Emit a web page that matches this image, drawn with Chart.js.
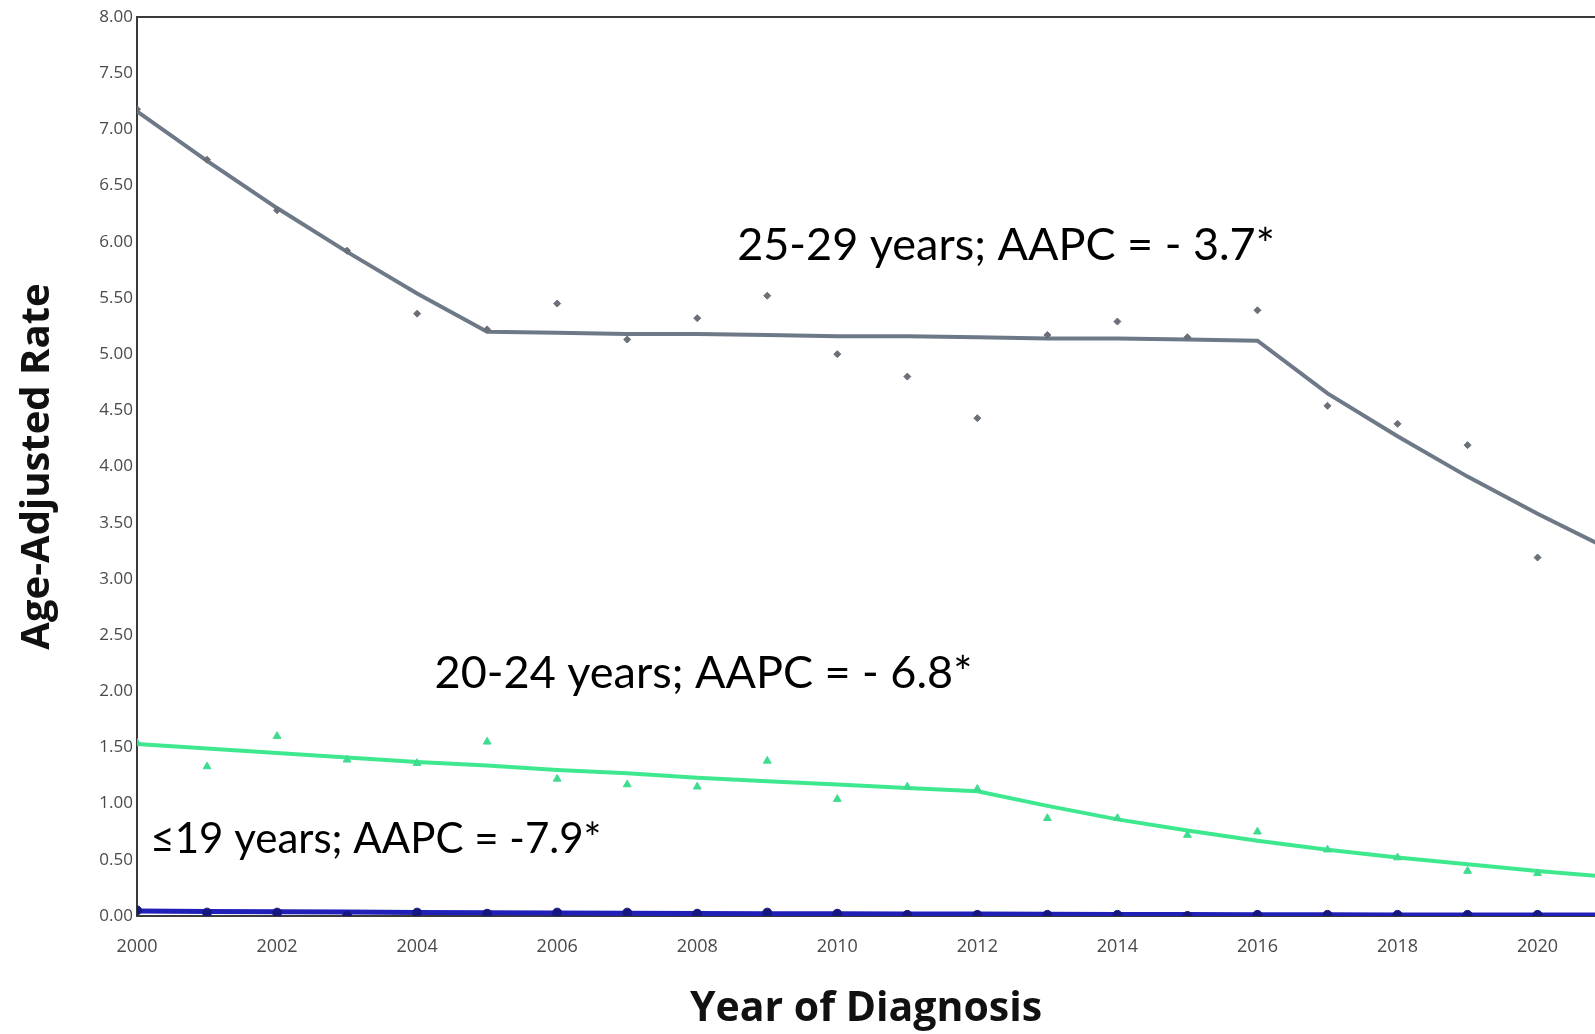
<!DOCTYPE html>
<html>
<head>
<meta charset="utf-8">
<script src="https://cdn.jsdelivr.net/npm/chart.js@4.4.1/dist/chart.umd.min.js"></script>
<style>
  html, body { margin: 0; padding: 0; background: #fff; overflow: hidden; }
  #wrap { width: 1595px; height: 1034px; }
  canvas { display: block; }
</style>
</head>
<body>
<div id="wrap"><canvas id="lineChart" width="1595" height="1034"></canvas></div>
<script>
// observed rates per year
var years = [2000, 2001, 2002, 2003, 2004, 2005, 2006, 2007, 2008, 2009, 2010,
             2011, 2012, 2013, 2014, 2015, 2016, 2017, 2018, 2019, 2020];
var rate2529 = [7.18, 6.73, 6.28, 5.92, 5.36, 5.22, 5.45, 5.13, 5.32, 5.52, 5.00,
                4.80, 4.43, 5.17, 5.29, 5.15, 5.39, 4.54, 4.38, 4.19, 3.19];
var rate2024 = [1.54, 1.33, 1.60, 1.39, 1.36, 1.55, 1.22, 1.17, 1.15, 1.38, 1.04,
                1.15, 1.13, 0.87, 0.87, 0.72, 0.75, 0.59, 0.52, 0.40, 0.38];
var rate19 = [0.05, 0.03, 0.03, 0.00, 0.03, 0.02, 0.03, 0.03, 0.02, 0.03, 0.02,
              0.01, 0.01, 0.01, 0.01, 0.00, 0.01, 0.01, 0.01, 0.01, 0.01];

// joinpoint fitted lines
var fitYears = [2000, 2001, 2002, 2003, 2004, 2005, 2006, 2007, 2008, 2009, 2010,
                2011, 2012, 2013, 2014, 2015, 2016, 2017, 2018, 2019, 2020, 2021];
var fit2529 = [7.16, 6.72, 6.30, 5.91, 5.54, 5.20, 5.19, 5.18, 5.18, 5.17, 5.16,
               5.16, 5.15, 5.14, 5.14, 5.13, 5.12, 4.65, 4.27, 3.91, 3.58, 3.27];
var fit2024 = [1.53, 1.49, 1.45, 1.41, 1.37, 1.34, 1.30, 1.27, 1.23, 1.20, 1.17,
               1.14, 1.11, 0.98, 0.86, 0.76, 0.67, 0.59, 0.52, 0.46, 0.40, 0.35];
var fit19 = [0.045, 0.041, 0.038, 0.035, 0.032, 0.030, 0.027, 0.025, 0.023, 0.021, 0.020,
             0.018, 0.017, 0.015, 0.014, 0.013, 0.012, 0.011, 0.010, 0.009, 0.009, 0.008];

// ticks
var xTicks = [2000, 2002, 2004, 2006, 2008, 2010, 2012, 2014, 2016, 2018, 2020];
var yTicks = [0, 0.5, 1, 1.5, 2, 2.5, 3, 3.5, 4, 4.5, 5, 5.5, 6, 6.5, 7, 7.5, 8];

// AAPC labels (placed in data units)
var noteText = ["25-29 years; AAPC = - 3.7*", "20-24 years; AAPC = - 6.8*", "\u226419 years; AAPC = -7.9*"];
var noteX = [2008.57, 2004.25, 2000.19];
var noteY = [5.84, 2.03, 0.56];
var noteSize = [45, 45, 42];

function pts(xs, ys) {
  return xs.map(function (x, i) { return { x: x, y: ys[i] }; });
}

var topLine = {
  id: 'topLine',
  afterDraw: function (chart) {
    var c = chart.ctx, a = chart.chartArea;
    c.save();
    c.strokeStyle = '#3a3a3a';
    c.lineWidth = 2;
    c.beginPath();
    c.moveTo(a.left, a.top);
    c.lineTo(a.right, a.top);
    c.stroke();
    c.restore();
  }
};

var notes = {
  id: 'notes',
  afterDatasetsDraw: function (chart) {
    var c = chart.ctx, xs = chart.scales.x, ys = chart.scales.y;
    c.save();
    c.fillStyle = '#000';
    c.textAlign = 'left';
    c.textBaseline = 'alphabetic';
    for (var i = 0; i < noteText.length; i++) {
      c.font = noteSize[i] + 'px Lato';
      c.fillText(noteText[i], xs.getPixelForValue(noteX[i]), ys.getPixelForValue(noteY[i]));
    }
    c.restore();
  }
};

var ctxL = document.getElementById("lineChart").getContext('2d');
var myLineChart = new Chart(ctxL, {
  type: 'line',
  data: {
    datasets: [
      {
        label: "25-29 observed",
        data: pts(years, rate2529),
        showLine: false,
        pointStyle: 'rectRot',
        pointRadius: 3.5,
        pointBackgroundColor: '#6a6f78',
        pointBorderColor: '#6a6f78',
        pointBorderWidth: 1
      },
      {
        label: "20-24 observed",
        data: pts(years, rate2024),
        showLine: false,
        pointStyle: 'triangle',
        pointRadius: 4.5,
        pointBackgroundColor: '#3fdc90',
        pointBorderColor: '#3fdc90',
        pointBorderWidth: 1
      },
      {
        label: "<=19 observed",
        data: pts(years, rate19),
        showLine: false,
        pointStyle: 'circle',
        pointRadius: 4.5,
        pointBackgroundColor: '#16167e',
        pointBorderColor: '#16167e',
        pointBorderWidth: 1
      },
      {
        label: "25-29 fit",
        data: pts(fitYears, fit2529),
        borderColor: '#6e7988',
        borderWidth: 4,
        pointRadius: 0,
        tension: 0
      },
      {
        label: "20-24 fit",
        data: pts(fitYears, fit2024),
        borderColor: '#3ee88e',
        borderWidth: 4,
        pointRadius: 0,
        tension: 0
      },
      {
        label: "<=19 fit",
        data: pts(fitYears, fit19),
        borderColor: '#2020b8',
        borderWidth: 5,
        pointRadius: 0,
        tension: 0
      }
    ]
  },
  options: {
    responsive: false,
    animation: false,
    layout: { autoPadding: false, padding: { top: 17, right: 0, bottom: 0, left: 0 } },
    plugins: {
      legend: { display: false },
      tooltip: { enabled: false }
    },
    scales: {
      x: {
        type: 'linear',
        min: 2000,
        max: 2020.82,
        grid: { display: false, drawTicks: false },
        border: { display: true, color: '#3a3a3a', width: 2 },
        afterBuildTicks: function (s) { s.ticks = xTicks.map(function (v) { return { value: v }; }); },
        afterFit: function (s) { s.height = 118; s.paddingRight = 0; s.paddingLeft = 0; },
        ticks: {
          padding: 20,
          maxRotation: 0,
          color: '#4a4a4a',
          font: { family: 'Open Sans', size: 18 },
          callback: function (v) { return String(v); }
        },
        title: {
          display: true,
          text: 'Year of Diagnosis',
          color: '#111',
          padding: { top: 0, bottom: 0 },
          font: { family: 'Open Sans', size: 41, weight: 'bold' }
        }
      },
      y: {
        min: 0,
        max: 8,
        grid: { display: false, drawTicks: false },
        border: { display: true, color: '#3a3a3a', width: 2 },
        afterBuildTicks: function (s) { s.ticks = yTicks.map(function (v) { return { value: v }; }); },
        afterFit: function (s) { s.width = 137; },
        ticks: {
          padding: 4,
          color: '#4a4a4a',
          font: { family: 'Open Sans', size: 17 },
          callback: function (v) { return Number(v).toFixed(2); }
        },
        title: {
          display: true,
          text: 'Age-Adjusted Rate',
          color: '#111',
          padding: { top: 14, bottom: 0 },
          font: { family: 'Open Sans', size: 40, weight: 'bold' }
        }
      }
    }
  },
  plugins: [topLine, notes]
});
</script>
</body>
</html>
